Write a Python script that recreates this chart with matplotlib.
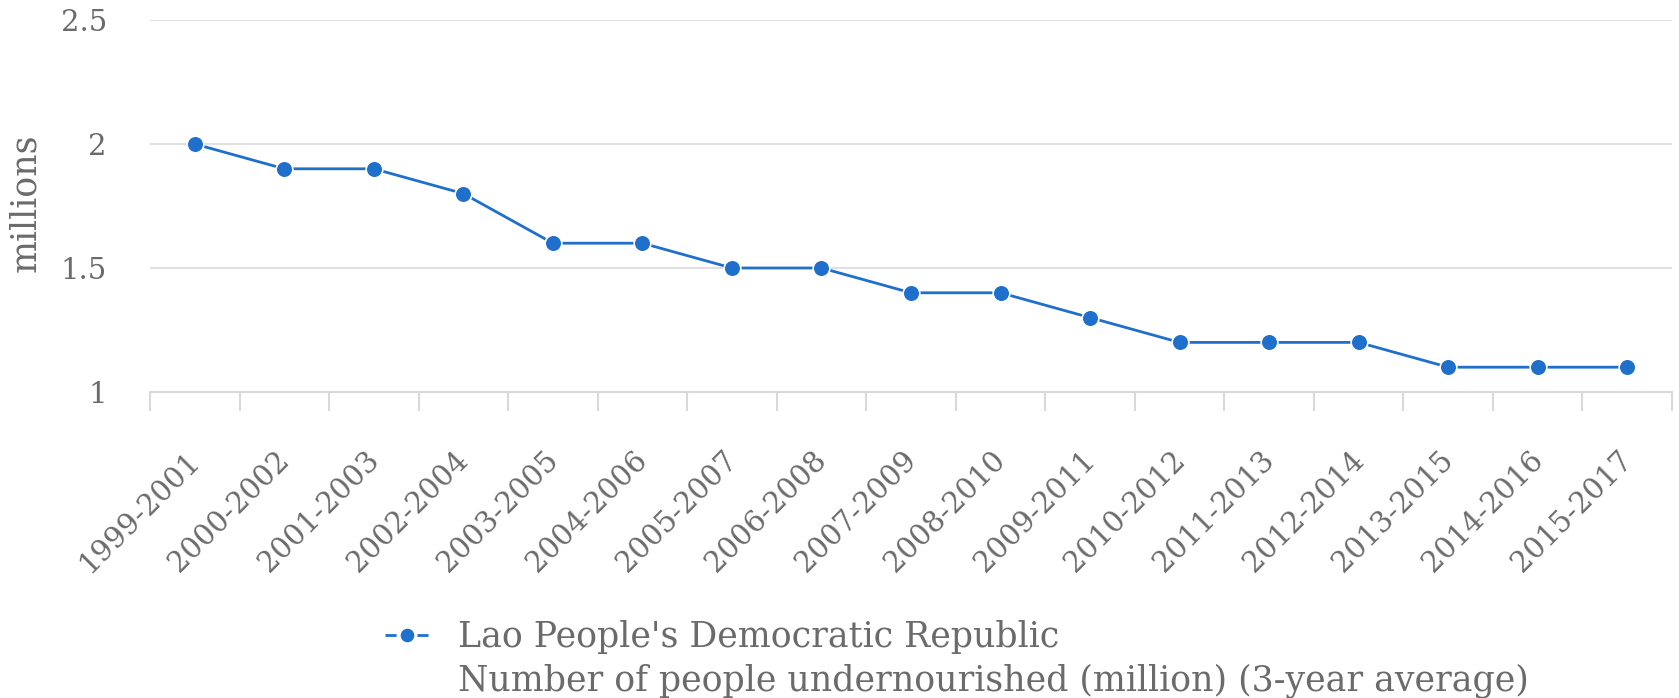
import numpy as np
import matplotlib.pyplot as plt
import matplotlib.transforms as mtransforms
from matplotlib.lines import Line2D

periods = ["1999-2001", "2000-2002", "2001-2003", "2002-2004", "2003-2005",
           "2004-2006", "2005-2007", "2006-2008", "2007-2009", "2008-2010",
           "2009-2011", "2010-2012", "2011-2013", "2012-2014", "2013-2015",
           "2014-2016", "2015-2017"]
undernourished = [2.0, 1.9, 1.9, 1.8, 1.6, 1.6, 1.5, 1.5, 1.4, 1.4,
                  1.3, 1.2, 1.2, 1.2, 1.1, 1.1, 1.1]
yticks = [1, 1.5, 2, 2.5]
ytick_labels = ["1", "1.5", "2", "2.5"]
series_name = "Lao People's Democratic Republic"
indicator = "Number of people undernourished (million) (3-year average)"

blue = "#1f6fcc"
txt = "#6b6b6b"
plt.rcParams['font.family'] = ['DejaVu Serif']

fig = plt.figure(figsize=(16.79, 6.98), dpi=100)
ax = fig.add_axes([150/1679, 1 - 392/698, (1672-150)/1679, (392-20)/698])

x = np.arange(len(periods))
line, = ax.plot(x, undernourished, color=blue, lw=2, marker='o', ms=12,
                markeredgecolor='white', markeredgewidth=1.2)

ax.set_xlim(-0.5, len(periods) - 0.5)
ax.set_ylim(1, 2.5)
ax.set_yticks(yticks)
ax.set_yticklabels(ytick_labels)
ax.yaxis.grid(True, color='#e0e0e0', lw=1.5)
ax.set_axisbelow(True)
ax.tick_params(axis='y', length=0, pad=31, labelsize=21, labelcolor=txt)

# tick marks sit between the categories
ax.set_xticks(np.arange(len(periods) + 1) - 0.5)
ax.set_xticklabels([])
ax.set_xticks(x, minor=True)
ax.set_xticklabels(periods, minor=True, rotation=45, ha='right', va='top',
                   rotation_mode='anchor')
ax.tick_params(axis='x', which='major', length=14, width=1.5, color='#d9d9d9')
ax.tick_params(axis='x', which='minor', length=0, pad=39, labelsize=21,
               labelcolor=txt)
shift = mtransforms.ScaledTranslation(-9/100, 0, fig.dpi_scale_trans)
for lab in ax.get_xticklabels(minor=True):
    lab.set_transform(lab.get_transform() + shift)

for s in ['top', 'right', 'left']:
    ax.spines[s].set_visible(False)
ax.spines['bottom'].set_color('#d9d9d9')
ax.spines['bottom'].set_linewidth(1.5)

ax.set_ylabel("millions", fontsize=25, color=txt)
ax.yaxis.set_label_coords(-108/1522, 0.51)

blank = Line2D([], [], alpha=0)
leg = fig.legend([line, blank], [series_name, indicator],
                 loc='upper left', bbox_to_anchor=(385/1679, 1 - 620/698),
                 frameon=False, fontsize=25, labelcolor=txt, borderpad=0,
                 borderaxespad=0, handlelength=1.24, handletextpad=0.87,
                 labelspacing=0.26)
h = leg.legend_handles[0]
h.set_dashes([4, 7.5])
h.set_markersize(11)

fig.savefig("out.png", dpi=100)
